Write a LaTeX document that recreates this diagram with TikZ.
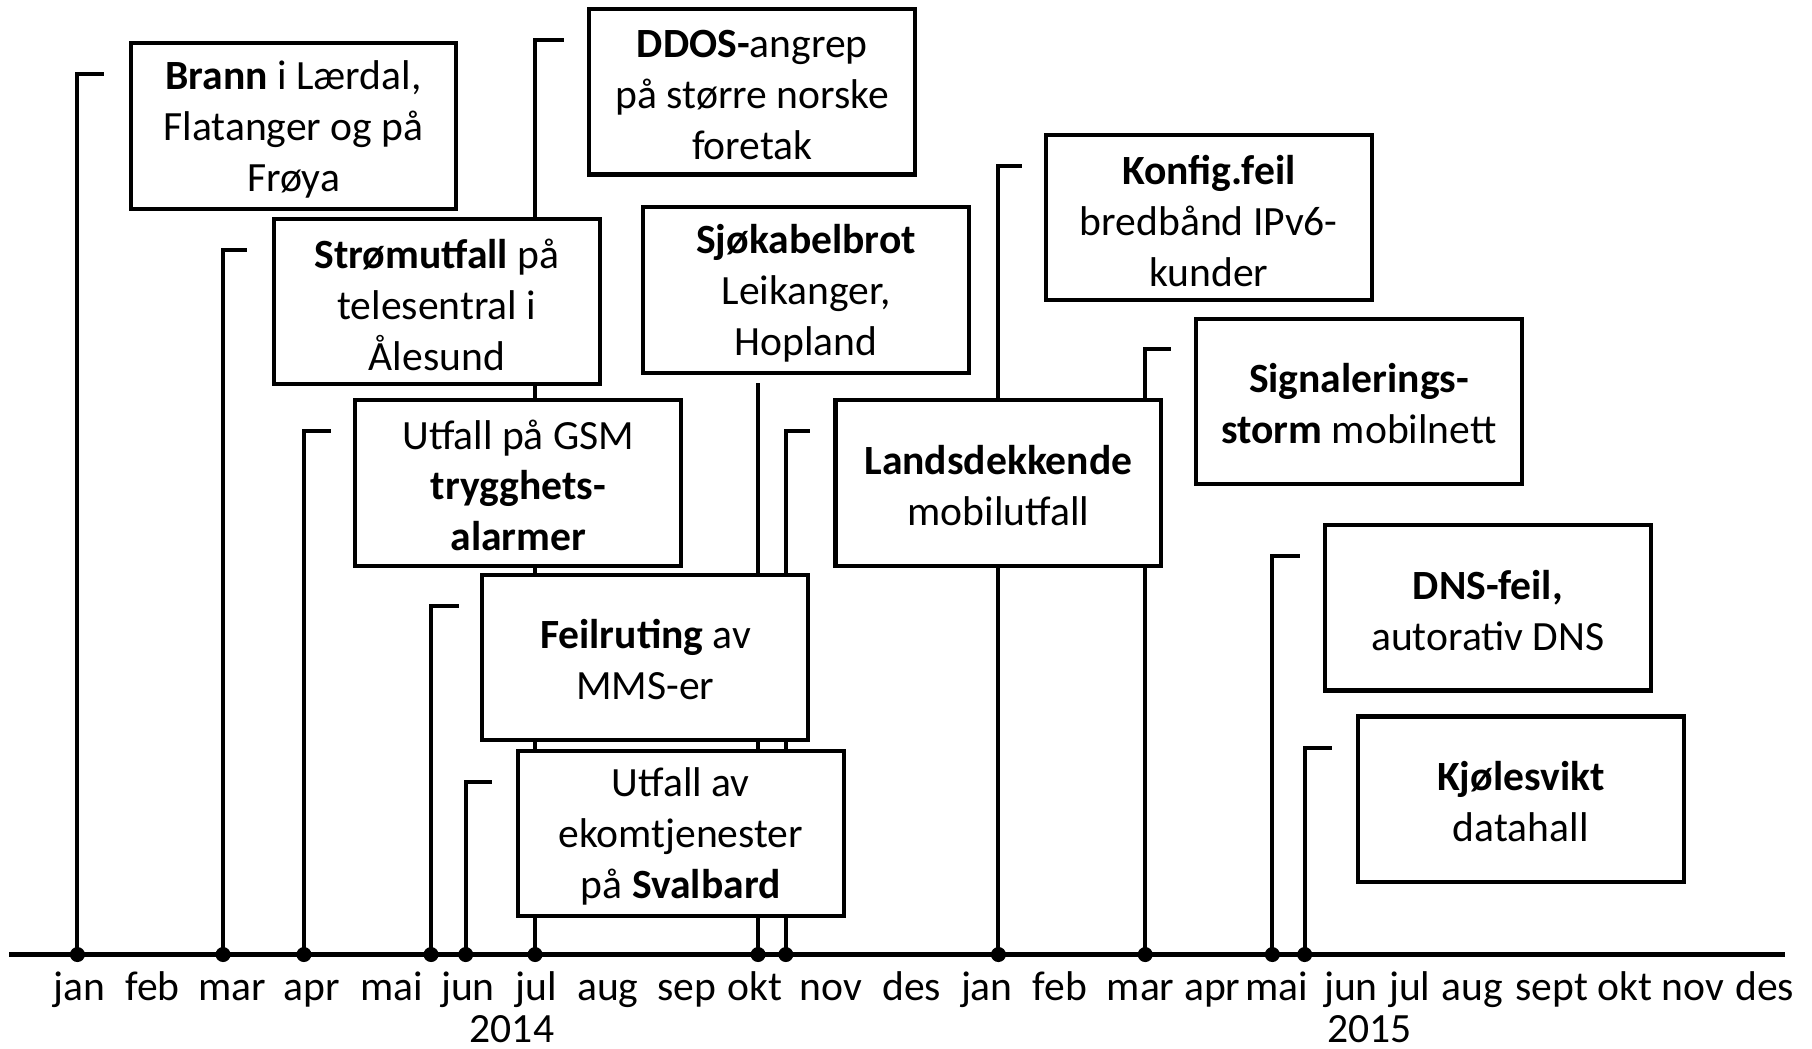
\documentclass[tikz,border=0pt]{standalone}
\usepackage{fontspec}
\setmainfont{Carlito}
\begin{document}
\begin{tikzpicture}[x=1pt,y=-1pt,
  box/.style={draw,line width=3.5pt,fill=white,minimum width=282pt,minimum height=143pt,inner sep=0pt},
  boxtxt/.style={inner sep=0pt,align=center,font=\fontsize{36}{44}\selectfont},
  conn/.style={line width=3.5pt},
  axisline/.style={line width=5pt},
  evdot/.style={circle,fill=black,inner sep=0pt,minimum size=13pt},
  lbl/.style={anchor=base,inner sep=0pt,font=\fontsize{36}{44}\selectfont}]
\useasboundingbox (0,0) rectangle (1568,907);

% axis
\coordinate (ax0) at (8,826);
\coordinate (ax1) at (1545,826);
\draw[axisline] (ax0) -- (ax1);

% event dots
\node[evdot] (d1) at (67,826) {};
\node[evdot] (d2) at (193,826) {};
\node[evdot] (d3) at (263,826) {};
\node[evdot] (d4) at (373,826) {};
\node[evdot] (d5) at (403,826) {};
\node[evdot] (d6) at (463,826) {};
\node[evdot] (d7) at (656,826) {};
\node[evdot] (d8) at (680,826) {};
\node[evdot] (d9) at (864,826) {};
\node[evdot] (d10) at (991,826) {};
\node[evdot] (d11) at (1101,826) {};
\node[evdot] (d12) at (1129,826) {};

% connector ends
\coordinate (t1) at (90,64);
\coordinate (t2) at (214,216);
\coordinate (t3) at (286,373);
\coordinate (t4) at (397,524);
\coordinate (t5) at (426,677);
\coordinate (t6) at (488,35);
\coordinate (t7) at (656,331);
\coordinate (t8) at (701,373);
\coordinate (t9) at (884,144);
\coordinate (t10) at (1013,302);
\coordinate (t11) at (1125,481);
\coordinate (t12) at (1153,647);

\draw[conn] (d1.center) |- (t1);
\draw[conn] (d2.center) |- (t2);
\draw[conn] (d3.center) |- (t3);
\draw[conn] (d4.center) |- (t4);
\draw[conn] (d5.center) |- (t5);
\draw[conn] (d6.center) |- (t6);
\draw[conn] (d7.center) -- (t7);
\draw[conn] (d8.center) |- (t8);
\draw[conn] (d9.center) |- (t9);
\draw[conn] (d10.center) |- (t10);
\draw[conn] (d11.center) |- (t11);
\draw[conn] (d12.center) |- (t12);

% boxes
\node[box] (brann) at (254,109) {};
\node[box] (ddos) at (651,79.5) {};
\node[box] (strom) at (378,261) {};
\node[box] (sjo) at (697.5,251) {};
\node[box] (konfig) at (1046,188) {};
\node[box] (signal) at (1176,347.5) {};
\node[box] (gsm) at (448.5,418) {};
\node[box] (lands) at (864,418) {};
\node[box] (feil) at (558.5,569) {};
\node[box] (dns) at (1287.5,526) {};
\node[box] (sval) at (589,721) {};
\node[box] (kjole) at (1316,691.5) {};

% box texts
\path (brann.center) ++(0,3) node[boxtxt] (brannT) {\textbf{Brann} i Lærdal,\\Flatanger og på\\Frøya};
\path (ddos.center) ++(0,3) node[boxtxt] (ddosT) {\textbf{DDOS-}angrep\\på større norske\\foretak};
\path (strom.center) ++(0,3) node[boxtxt] (stromT) {\textbf{Strømutfall} på\\telesentral i\\Ålesund};
\path (sjo.center) ++(0,3) node[boxtxt] (sjoT) {\textbf{Sjøkabelbrot}\\Leikanger,\\Hopland};
\path (konfig.center) ++(0,3) node[boxtxt] (konfigT) {\textbf{Konfig.feil}\\bredbånd IPv6-\\kunder};
\path (signal.center) ++(0,2) node[boxtxt] (signalT) {\textbf{Signalerings-}\\\textbf{storm} mobilnett};
\path (gsm.center) ++(0,2) node[boxtxt] (gsmT) {Utfall på GSM\\\textbf{trygghets-}\\\textbf{alarmer}};
\path (lands.center) ++(0,2) node[boxtxt] (landsT) {\textbf{Landsdekkende}\\mobilutfall};
\path (feil.center) ++(0,2) node[boxtxt] (feilT) {\textbf{Feilruting} av\\MMS-er};
\path (dns.center) ++(0,2) node[boxtxt] (dnsT) {\textbf{DNS-feil,}\\autorativ DNS};
\path (sval.center) ++(0,3) node[boxtxt] (svalT) {Utfall av\\ekomtjenester\\på \textbf{Svalbard}};
\path (kjole.center) ++(0,2) node[boxtxt] (kjoleT) {\textbf{Kjølesvikt}\\datahall};

% month labels
\foreach \x/\m [count=\i] in {69/jan,132/feb,201/mar,270/apr,339/mai,405/jun,464/jul,526/aug,594/sep,653/okt,719/nov,789/des,854/jan,917/feb,987/mar,1049/apr,1105/mai,1169/jun,1220/jul,1274/aug,1343/sept,1406/okt,1465/nov,1527/des}
  \node[lbl] (m\i) at (\x,866) {\m};
\node[lbl] (y2014) at (443,902) {2014};
\node[lbl] (y2015) at (1185,902) {2015};
\end{tikzpicture}
\end{document}
